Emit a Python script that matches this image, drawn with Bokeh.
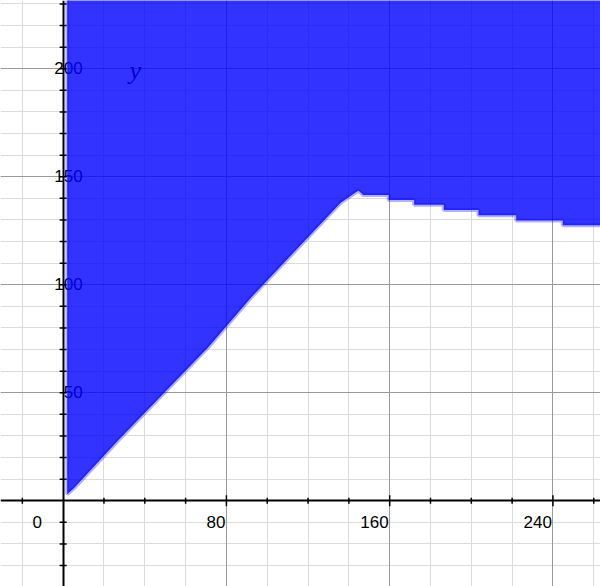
import math
from bokeh.plotting import figure
from bokeh.models import Range1d, Grid, FixedTicker
from bokeh.core.properties import value
from bokeh.embed import file_html
from bokeh.resources import INLINE

# ---- data ----
x_minor = [-20, 20, 40, 60, 100, 120, 140, 180, 200, 220, 260]
x_major = [80, 160, 240]
y_minor = [-30, -20, -10, 10, 20, 30, 40, 60, 70, 80, 90, 110, 120, 130, 140,
           160, 170, 180, 190, 210, 220, 230]
y_major = [50, 100, 150, 200]
x_labels = ["80", "160", "240"]
y_labels = ["50", "100", "150", "200"]

# boundary of the shaded region (y above the boundary, x > 0)
rise_x = [2, 5.5, 27, 71, 92, 136, 144.7]
rise_y = [3, 6, 28, 71, 94, 138, 143.6]
step_x = [147, 159.5, 172, 186.5, 203.5, 222, 244.8]
step_y = [141.5, 139.2, 137, 134.6, 132.2, 129.8, 127.5]

X0, X1 = -30.7, 263.3
Y0, Y1 = -39.7, 231.6
TOP = Y1 + 50
FAR = X1 + 50

# build the boundary path
edge_x = [rise_x[0]] + list(rise_x) + [step_x[0]]
edge_y = [TOP] + list(rise_y) + [step_y[0]]
for i in range(1, len(step_x)):
    edge_x += [step_x[i], step_x[i]]
    edge_y += [step_y[i - 1], step_y[i]]
edge_x += [FAR]
edge_y += [step_y[-1]]
poly_x = edge_x + [FAR]
poly_y = edge_y + [TOP]

p = figure(width=600, height=586, x_range=Range1d(X0, X1), y_range=Range1d(Y0, Y1),
           x_axis_type=None, y_axis_type=None, output_backend="svg",
           toolbar_location=None, min_border=0)
p.outline_line_color = None
p.background_fill_color = "white"
p.border_fill_color = "white"

for dim, ticks, color in [(0, x_minor + x_major, "#dcdcdc"), (1, y_minor + y_major, "#dcdcdc"),
                          (0, x_major, "#9a9a9a"), (1, y_major, "#9a9a9a")]:
    g = Grid(dimension=dim, ticker=FixedTicker(ticks=ticks),
             grid_line_color=color, grid_line_width=1)
    p.add_layout(g)

font = value("Liberation Sans")
p.text(x=x_major, y=[0] * len(x_major), text=x_labels, text_align="right",
       text_baseline="alphabetic", x_offset=-1, y_offset=21, text_font=font,
       text_font_size="17px", text_color="black")
p.text(x=[0], y=[0], text=["0"], text_align="center", text_baseline="alphabetic",
       x_offset=-26, y_offset=21, text_font=font, text_font_size="17px",
       text_color="black")
p.text(x=[0] * len(y_major), y=y_major, text=y_labels, text_align="right",
       text_baseline="alphabetic", x_offset=19.5, y_offset=-0.5, text_font=font,
       text_font_size="17px", text_color="black")
p.text(x=[32.5], y=[199.3], text=["y"], text_align="left", text_baseline="alphabetic",
       text_font=value("Liberation Serif"), text_font_style="italic",
       text_font_size="26px", text_color="black")

# axes
p.hspan(y=[0], line_color="black", line_width=2)
p.vspan(x=[0], line_color="black", line_width=2)
p.scatter(x=x_minor, y=[0] * len(x_minor), marker="dash", size=6, angle=math.pi / 2,
          line_color="black", line_width=1.5)
p.scatter(x=x_major, y=[0] * len(x_major), marker="dash", size=11, angle=math.pi / 2,
          line_color="black", line_width=1.5)
p.scatter(x=[0] * len(y_minor + y_major), y=y_minor + y_major, marker="dash", size=7,
          line_color="black", line_width=1.5)

# shaded region
p.line(edge_x, edge_y, line_color="blue", line_alpha=0.3, line_width=4)
p.patch(poly_x, poly_y, fill_color="blue", fill_alpha=0.8, line_color=None)

open("out.html", "w").write(file_html(p, INLINE))
